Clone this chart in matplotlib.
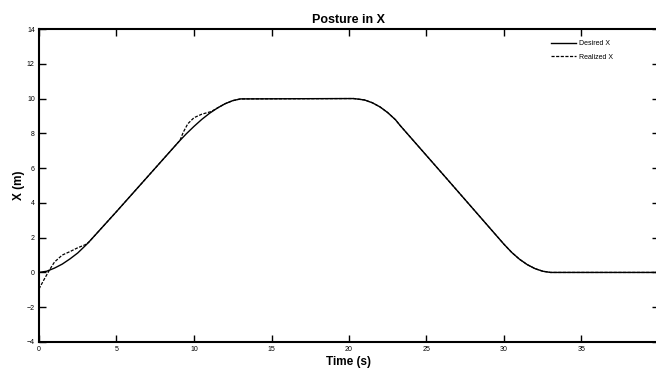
import matplotlib
matplotlib.use("Agg")
import matplotlib.pyplot as plt

plt.rcParams['font.family'] = ['Liberation Sans', 'DejaVu Sans']

# Desired trajectory
t_desired = [0, 0.5, 1, 1.5, 2, 2.5, 3, 3.2, 5, 7, 9, 9.5, 10, 10.5, 11, 11.5,
             12, 12.5, 13, 20, 20.3, 21, 21.5, 22, 22.5, 23, 23.3, 26.3, 30,
             30.5, 31, 31.5, 32, 32.5, 33, 40]
x_desired = [0, 0.07, 0.25, 0.48, 0.78, 1.12, 1.55, 1.73, 3.5, 5.5, 7.5, 7.97,
             8.4, 8.8, 9.15, 9.45, 9.7, 9.88, 9.98, 10, 10, 9.92, 9.76, 9.52,
             9.19, 8.78, 8.45, 5.4, 1.62, 1.15, 0.76, 0.45, 0.22, 0.07, 0, 0]

# Realized trajectory
t_realized = [0, 0.3, 0.7, 1, 1.5, 2, 2.5, 3, 3.2, 5, 7, 9.1, 9.3, 9.6, 10,
              10.5, 11.1, 11.5, 12, 12.5, 13, 20, 20.3, 21, 21.5, 22, 22.5,
              23, 23.3, 26.3, 30, 30.5, 31, 31.5, 32, 32.5, 33, 40]
x_realized = [-0.95, -0.45, 0.18, 0.6, 1.0, 1.2, 1.42, 1.6, 1.73, 3.5, 5.5,
              7.6, 8.05, 8.55, 8.9, 9.1, 9.25, 9.45, 9.7, 9.88, 9.98, 10, 10,
              9.92, 9.76, 9.52, 9.19, 8.78, 8.45, 5.4, 1.62, 1.15, 0.76, 0.45,
              0.22, 0.07, 0, 0]

fig = plt.figure(figsize=(6.56, 3.69), dpi=100)
ax = fig.add_axes([39 / 656, 1 - 342 / 369, 620 / 656, 313 / 369])

ax.plot(t_desired, x_desired, color='black', linewidth=1.0, label='Desired X')
ax.plot(t_realized, x_realized, color='black', linewidth=0.9,
        dashes=(2.5, 1.2), label='Realized X')

ax.set_xlim(0, 40)
ax.set_ylim(-4, 14)
ax.set_xticks(range(0, 40, 5))
ax.set_yticks(range(-4, 15, 2))
ax.tick_params(direction='in', length=5, width=1, labelsize=5,
               top=True, right=True, pad=3)
for s in ax.spines.values():
    s.set_linewidth(1.5)

ax.set_title('Posture in X', fontsize=9, fontweight='bold', pad=4)
ax.set_xlabel('Time (s)', fontsize=8.5, fontweight='bold', labelpad=2)
ax.set_ylabel('X (m)', fontsize=8.5, fontweight='bold', labelpad=1)

ax.legend(loc='upper left', bbox_to_anchor=(506 / 620, 0.985), frameon=False,
          fontsize=5, handlelength=3.6, labelspacing=1.0, handletextpad=0.4)

fig.savefig('out.png', dpi=100)
